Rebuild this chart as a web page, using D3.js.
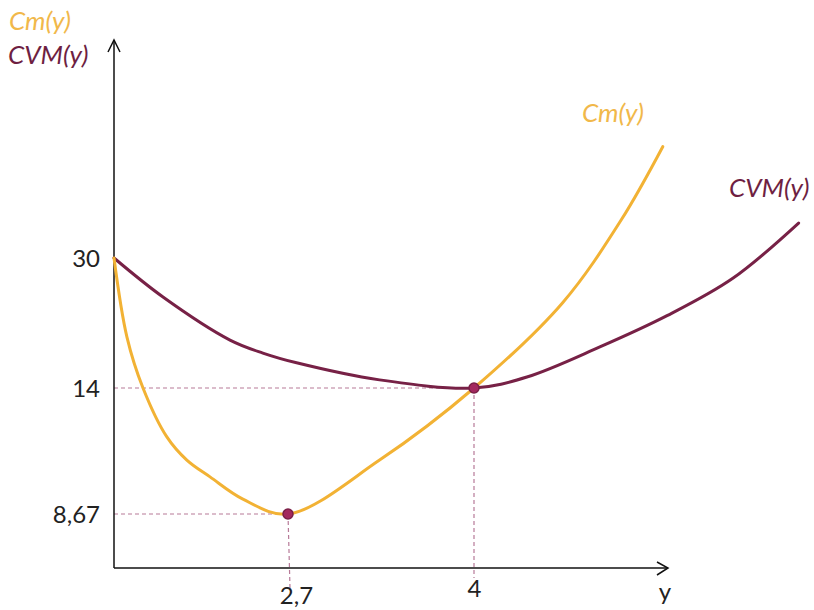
<!DOCTYPE html>
<html>
<head>
<meta charset="utf-8">
<script src="https://cdn.jsdelivr.net/npm/d3@7"></script>
<style>
  body { margin: 0; background: #fff; }
  svg text { font-family: Lato, "Open Sans", sans-serif; }
</style>
</head>
<body>
<div id="chart"></div>
<script>
// ----- Data -----
const cmX  = [0, 0.20, 0.45, 0.82, 1.13, 1.49, 2.0, 2.7, 3.34, 4.0, 4.62, 5.03, 5.32];
const cmY  = [30, 20.3, 14.0, 11.93, 10.95, 10.24, 9.3, 8.67, 10.95, 14.0, 24.5, 34.7, 43.7];

const cvmX = [0, 0.76, 1.80, 2.31, 2.76, 3.34, 4.0, 4.37, 4.88, 5.35, 5.81, 6.27];
const cvmY = [30, 25.2, 19.9, 18.3, 17.1, 15.0, 14.0, 15.35, 19.05, 22.9, 27.5, 34.3];

const yTicks = [8.67, 14, 30];
const xTicks = [2.7, 4];
const keyPoints = [{ x: 2.7, y: 8.67 }, { x: 4, y: 14 }];

// ----- Layout -----
const width  = 814;
const height = 610;
const origin = { x: 114, y: 568 };

const CM_COLOR  = "#f2b234";
const CVM_COLOR = "#772146";
const DASH      = "#b77a98";

const svg = d3.select("#chart")
  .append("svg")
  .attr("width", width)
  .attr("height", height);

// the sketch is not to scale, so both scales are piecewise
const x = d3.scaleLinear()
  .domain([0, 2.7, 4, 5])
  .range([origin.x, 288, 474, 617]);

const y = d3.scaleLinear()
  .domain([0, 8.67, 14, 30])
  .range([origin.y, 514, 388, 258]);

const fmt = d => String(d).replace(".", ",");

// ---------- dashed guides ----------
const guides = svg.append("g")
  .attr("stroke", DASH)
  .attr("stroke-width", 1.2)
  .attr("stroke-dasharray", "4,3")
  .attr("fill", "none");

keyPoints.forEach(p => {
  guides.append("line")
    .attr("x1", x(0)).attr("x2", x(p.x))
    .attr("y1", y(p.y)).attr("y2", y(p.y));
  guides.append("line")
    .attr("x1", x(p.x)).attr("x2", x(p.x) + (p.x === 2.7 ? 2 : 0))
    .attr("y1", y(p.y)).attr("y2", p.x === 2.7 ? 588 : 578);
});

// ---------- axes ----------
const yAxis = svg.append("g")
  .attr("transform", `translate(${origin.x},0)`)
  .call(d3.axisLeft(y).tickValues(yTicks).tickSize(0).tickPadding(14).tickFormat(fmt));

const xAxis = svg.append("g")
  .attr("transform", `translate(0,${origin.y})`)
  .call(d3.axisBottom(x).tickValues(xTicks).tickSize(0).tickPadding(12).tickFormat(fmt));

[yAxis, xAxis].forEach(ax => {
  ax.select(".domain").remove();
  ax.selectAll("text")
    .attr("font-size", 24)
    .attr("fill", "#222")
    .style("font-family", "Lato, sans-serif");
});
yAxis.selectAll("text").attr("dy", "0.36em");
xAxis.selectAll(".tick")
  .filter(d => d === 2.7)
  .select("text")
  .attr("x", 8)
  .attr("dy", "1.0em");

const axisG = svg.append("g")
  .attr("stroke", "#111")
  .attr("stroke-width", 1.5)
  .attr("fill", "none");

axisG.append("line")
  .attr("x1", origin.x).attr("x2", origin.x)
  .attr("y1", origin.y).attr("y2", 40);
axisG.append("path")
  .attr("d", `M${origin.x - 6},52 L${origin.x},40 L${origin.x + 6},52`);

axisG.append("line")
  .attr("x1", origin.x).attr("x2", 668)
  .attr("y1", origin.y).attr("y2", origin.y);
axisG.append("path")
  .attr("d", `M657,${origin.y - 6} L668,${origin.y} L657,${origin.y + 7}`);

svg.append("text")
  .attr("x", 665)
  .attr("y", 600)
  .attr("text-anchor", "middle")
  .attr("font-size", 24)
  .attr("fill", "#222")
  .text("y");

// ---------- curves ----------
const line = d3.line()
  .x(d => x(d[0]))
  .y(d => y(d[1]))
  .curve(d3.curveCatmullRom.alpha(0.5));

svg.append("path")
  .datum(d3.zip(cvmX, cvmY))
  .attr("fill", "none")
  .attr("stroke", CVM_COLOR)
  .attr("stroke-width", 3)
  .attr("stroke-linecap", "round")
  .attr("d", line);

svg.append("path")
  .datum(d3.zip(cmX, cmY))
  .attr("fill", "none")
  .attr("stroke", CM_COLOR)
  .attr("stroke-width", 3)
  .attr("stroke-linecap", "round")
  .attr("d", line);

// ---------- key points ----------
svg.selectAll(".dot")
  .data(keyPoints)
  .enter()
  .append("circle")
  .attr("class", "dot")
  .attr("cx", d => x(d.x))
  .attr("cy", d => y(d.y))
  .attr("r", 5)
  .attr("fill", "#a3285e")
  .attr("stroke", "#7a1f47")
  .attr("stroke-width", 1.5);

// ---------- curve labels ----------
const labels = [
  { text: "Cm(y)",  color: "#f1b84a", x: 9,   y: 30 },
  { text: "CVM(y)", color: "#6e1f42", x: 8,   y: 64 },
  { text: "Cm(y)",  color: "#f1b84a", x: 582, y: 122 },
  { text: "CVM(y)", color: "#6e1f42", x: 729, y: 197 }
];

svg.selectAll(".curve-label")
  .data(labels)
  .enter()
  .append("text")
  .attr("class", "curve-label")
  .attr("x", d => d.x)
  .attr("y", d => d.y)
  .attr("font-size", 26)
  .attr("font-style", "italic")
  .attr("fill", d => d.color)
  .text(d => d.text);
</script>
</body>
</html>
